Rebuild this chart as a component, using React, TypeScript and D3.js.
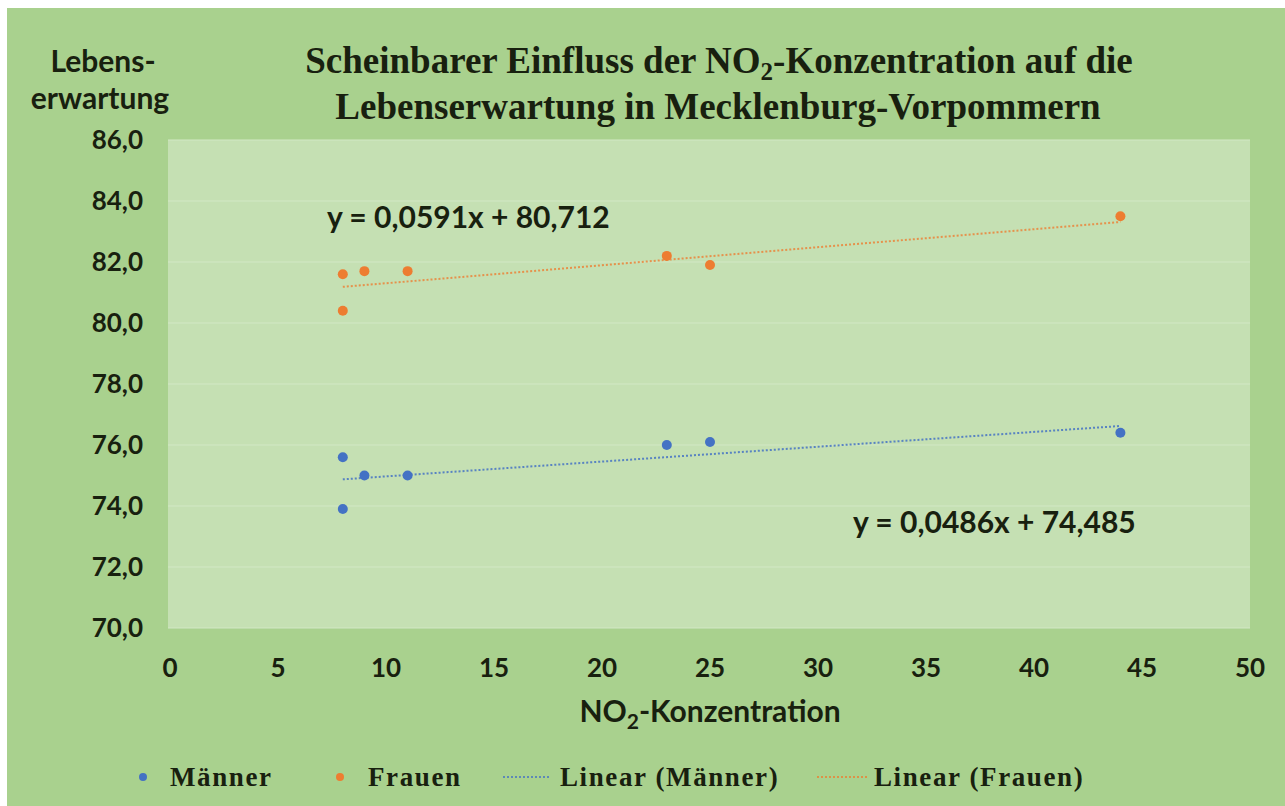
import React from "react";
import * as d3 from "d3";

// NO2-Konzentration (x) und Lebenserwartung (y)
const maennerX = [8, 8, 9, 11, 23, 25, 44];
const maennerY = [75.6, 73.9, 75.0, 75.0, 76.0, 76.1, 76.4];
const frauenX = [8, 8, 9, 11, 23, 25, 44];
const frauenY = [81.6, 80.4, 81.7, 81.7, 82.2, 81.9, 83.5];

// Trendlinien aus den Gleichungen im Diagramm
const maennerTrend = { m: 0.0486, b: 74.485 };
const frauenTrend = { m: 0.0591, b: 80.712 };

const xTicks = [0, 5, 10, 15, 20, 25, 30, 35, 40, 45, 50];
const yTicks = [70, 72, 74, 76, 78, 80, 82, 84, 86];

const BLUE = "#4472c4";
const ORANGE = "#ed7d31";
const INK = "#18200f";
const SANS = "Lato, 'Open Sans', sans-serif";
const SERIF = "'Liberation Serif', 'DejaVu Serif', serif";

const App = () => {
  const W = 1285;
  const H = 806;
  const plot = { left: 168, right: 1250, top: 140, bottom: 628 };

  const x = d3.scaleLinear().domain([0, 50]).range([plot.left + 2, plot.right]);
  const y = d3.scaleLinear().domain([70, 86]).range([plot.bottom, plot.top]);
  const fmt = (v: number) => d3.format(".1f")(v).replace(".", ",");

  const trend = (xs: number[], t: { m: number; b: number }) => {
    const [x0, x1] = d3.extent(xs) as [number, number];
    return d3
      .line<number>()
      .x((d) => x(d))
      .y((d) => y(t.m * d + t.b))([x0, x1]);
  };

  return (
    <div style={{ position: "absolute", left: 0, top: 0 }}>
      <svg width={W} height={H} style={{ display: "block" }}>
        <rect x={0} y={0} width={W} height={H} fill="#ffffff" />
        <rect x={7} y={8} width={W - 7} height={H - 8} fill="#a9d18e" />
        <rect
          x={plot.left}
          y={plot.top}
          width={plot.right - plot.left}
          height={plot.bottom - plot.top}
          fill="#c5e0b3"
        />
        {yTicks.map((t) => (
          <line
            key={"g" + t}
            x1={plot.left}
            x2={plot.right}
            y1={y(t)}
            y2={y(t)}
            stroke="#d2e8c5"
            strokeWidth={1}
          />
        ))}

        {/* Titel */}
        <text
          x={719}
          y={73}
          textAnchor="middle"
          fontFamily={SERIF}
          fontWeight="bold"
          fontSize={37}
          fill={INK}
        >
          Scheinbarer Einfluss der NO
          <tspan fontSize={25} dy={7}>2</tspan>
          <tspan dy={-7}>-Konzentration auf die</tspan>
        </text>
        <text
          x={718}
          y={119}
          textAnchor="middle"
          fontFamily={SERIF}
          fontWeight="bold"
          fontSize={37}
          fill={INK}
        >
          Lebenserwartung in Mecklenburg-Vorpommern
        </text>

        {/* y-Achsentitel */}
        <g fontFamily={SANS} fontWeight="bold" fontSize={30} fill={INK} textAnchor="middle">
          <text x={103} y={72}>Lebens-</text>
          <text x={100} y={109}>erwartung</text>
        </g>

        {/* y-Achse */}
        <g fontFamily={SANS} fontWeight="bold" fontSize={26} fill={INK} textAnchor="end">
          {yTicks.map((t) => (
            <text key={"y" + t} x={143} y={y(t)} dy="0.36em">
              {fmt(t)}
            </text>
          ))}
        </g>

        {/* x-Achse */}
        <g fontFamily={SANS} fontWeight="bold" fontSize={26} fill={INK} textAnchor="middle">
          {xTicks.map((t) => (
            <text key={"x" + t} x={x(t)} y={668} dy="0.36em">
              {t}
            </text>
          ))}
        </g>
        <text
          x={710}
          y={722}
          textAnchor="middle"
          fontFamily={SANS}
          fontWeight="bold"
          fontSize={30}
          fill={INK}
        >
          NO
          <tspan fontSize={21} dy={7}>2</tspan>
          <tspan dy={-7}>-Konzentration</tspan>
        </text>

        {/* Trendlinien */}
        <path
          d={trend(maennerX, maennerTrend) ?? ""}
          fill="none"
          stroke={BLUE}
          strokeOpacity={0.85}
          strokeWidth={2}
          strokeDasharray="2,2"
        />
        <path
          d={trend(frauenX, frauenTrend) ?? ""}
          fill="none"
          stroke={ORANGE}
          strokeOpacity={0.8}
          strokeWidth={2}
          strokeDasharray="2,2"
        />

        {/* Punkte */}
        {maennerX.map((v, i) => (
          <circle key={"m" + i} cx={x(v)} cy={y(maennerY[i])} r={5} fill={BLUE} />
        ))}
        {frauenX.map((v, i) => (
          <circle key={"f" + i} cx={x(v)} cy={y(frauenY[i])} r={5} fill={ORANGE} />
        ))}

        {/* Gleichungen */}
        <g fontFamily={SANS} fontWeight="bold" fontSize={30} fill={INK}>
          <text x={327} y={228}>
            y = 0,0591x + 80,712
          </text>
          <text x={853} y={533}>
            y = 0,0486x + 74,485
          </text>
        </g>

        {/* Legende */}
        <g fontFamily={SERIF} fontWeight="bold" fontSize={27} fill={INK} letterSpacing={1.6}>
          <circle cx={143} cy={777} r={4} fill={BLUE} />
          <text x={170} y={786}>Männer</text>
          <circle cx={340} cy={777} r={4} fill={ORANGE} />
          <text x={368} y={786}>Frauen</text>
          <line x1={503} x2={550} y1={777} y2={777} stroke={BLUE} strokeWidth={1.5} strokeDasharray="2,2" />
          <text x={560} y={786}>Linear (Männer)</text>
          <line x1={817} x2={867} y1={777} y2={777} stroke={ORANGE} strokeWidth={1.5} strokeDasharray="2,2" />
          <text x={874} y={786}>Linear (Frauen)</text>
        </g>
      </svg>
    </div>
  );
};

export default App;
